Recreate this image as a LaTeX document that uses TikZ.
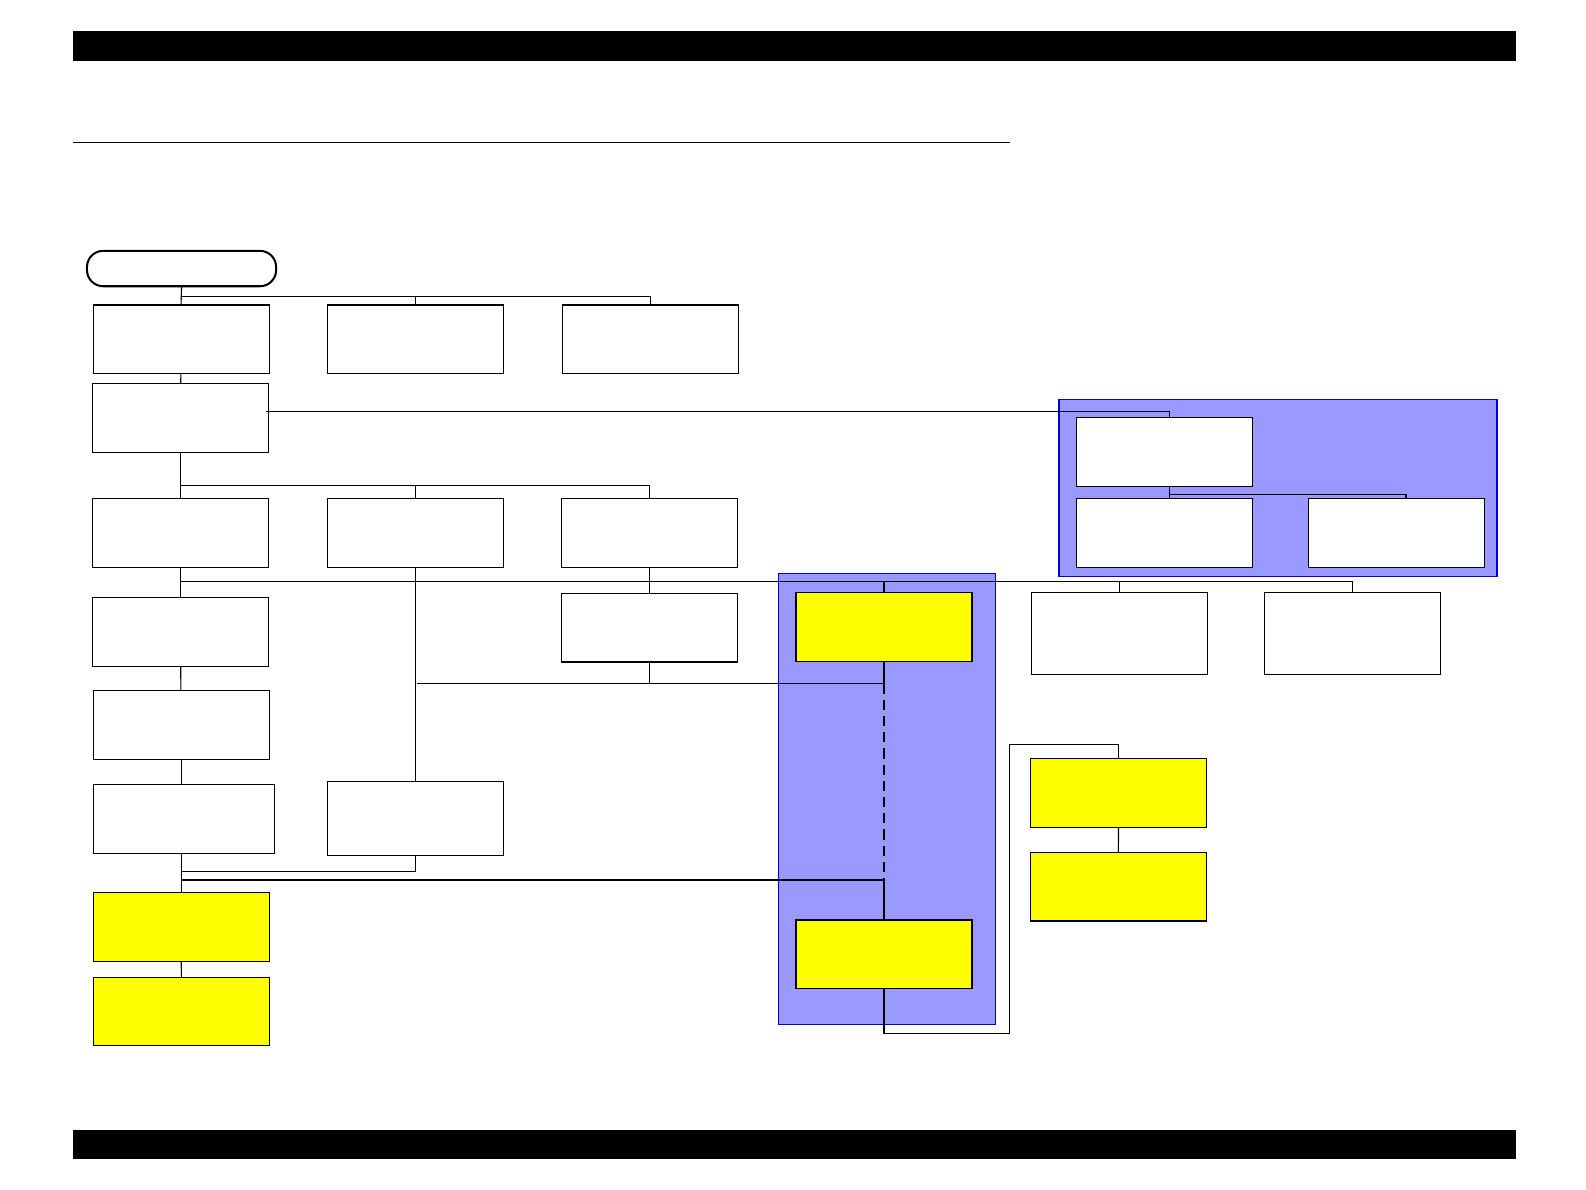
\documentclass[tikz,border=0pt]{standalone}
\usepackage{tikz}
\usetikzlibrary{positioning,calc}
\definecolor{grpblue}  {HTML}{9999FF}
\definecolor{grpedge}  {HTML}{0000CC}
\definecolor{stepyel}  {HTML}{FFFF00}

\begin{document}
\begin{tikzpicture}[
  x=0.5pt,y=-0.5pt,
  box/.style={draw,fill=white,line width=0.55pt,inner sep=0pt,outer sep=0pt,
              minimum width=87pt,minimum height=34pt},
  ybox/.style={box,fill=stepyel},
  term/.style={draw,fill=white,line width=1pt,rounded corners=8pt,inner sep=0pt,
               outer sep=0pt,minimum width=93.5pt,minimum height=17.5pt},
  grp/.style={draw=grpedge,fill=grpblue,line width=0.6pt,inner sep=0pt,outer sep=0pt},
  wire/.style={line width=0.55pt}
]
\useasboundingbox (0,0) rectangle (1568,1176);
% page bars
\fill (72,31) rectangle (1499,60);
\fill (72,1117) rectangle (1499,1146);
\draw[wire] (72,141) -- (999,141);
% groups
\node[grp,minimum width=107pt,minimum height=223pt] (grpmid) at (877,790) {};
\node[grp,minimum width=216.5pt,minimum height=87.5pt] (grpright) at (1263.5,482.5) {};
% start
\node[term] (start) at (179.5,265.5) {};
% first row
\node[box] (a1) at (179,335.5) {};
\node[box] (a2) at (411,335.5) {};
\node[box] (a3) at (643,335.5) {};
\node[box] (b)  at (178.5,413) {};
% second row
\node[box] (c1) at (178.5,527) {};
\node[box] (c2) at (410.5,527) {};
\node[box] (c3) at (642.5,527) {};
% left column
\node[box]  (d1) at (178.5,624.5) {};
\node[box]  (g1) at (179,716.5) {};
\node[box,minimum width=89.5pt] (h1) at (181.5,809.5) {};
\node[ybox] (y2) at (179,916.5) {};
\node[ybox] (y3) at (179.5,1000) {};
% middle
\node[box,minimum height=36.5pt] (g2) at (411,809.5) {};
\node[box] (d3) at (642,620.5) {};
\node[ybox] (y1) at (874,620) {};
\node[ybox] (y4) at (874,943.5) {};
% right side
\node[box,minimum height=40.5pt] (f1) at (1106.5,626.5) {};
\node[box,minimum height=40.5pt] (f2) at (1337.5,626.5) {};
\node[ybox] (y5) at (1106,784) {};
\node[ybox] (y6) at (1105.5,876.5) {};
\node[box] (e1) at (1151,447) {};
\node[box] (e2) at (1151,527) {};
\node[box] (e3) at (1381,527) {};

% bus points
\coordinate (bus1) at (179,293);
\coordinate (bus2) at (179,480);
\coordinate (bus3) at (179,575);
\coordinate (bus4) at (412,676);
\coordinate (bus5) at (179,870);
\coordinate (bus6) at (179,862);
\coordinate (bus7) at (1156,489);
\coordinate (bus7e) at (1390,489);
\coordinate (blink) at (263,407);
\coordinate (loopa) at (998,1022);
\coordinate (loopb) at (998,736);

\draw[wire] (start.south) -- (a1.north);
\draw[wire] (bus1) -| (a2.north);
\draw[wire] (bus1) -| (a3.north);
\draw[wire] (a1) -- (b);
\draw[wire] (blink) -| (bus7 |- e1.north);
\draw[wire] (b) -- (c1);
\draw[wire] (bus2) -| (c2.north);
\draw[wire] (bus2) -| (c3.north);
\draw[wire] (c1) -- (d1);
\draw[wire] (bus3) -| (y1.north);
\draw[wire] (bus3) -| (f1.north);
\draw[wire] (bus3) -| (f2.north);
\draw[wire] (c2.south) -- (c2.south |- g2.north);
\draw[wire] (c3.south) -- (c3.south |- d3.north);
\draw[wire] (d3.south) -- (d3.south |- bus4);
\draw[wire] (bus4) -| (y1.south);
\draw[wire,dash pattern=on 5pt off 3pt] (y1.south |- bus4) -- (y1.south |- bus5);
\draw[wire] (d1) -- (g1);
\draw[wire] (g1.south) -- (g1.south |- h1.north);
\draw[wire] (y2.north |- h1.south) -- (y2.north);
\draw[wire] (bus6) -| (g2.south);
\draw[wire] (bus5) -| (y4.north);
\draw[wire] (y2) -- (y3);
\draw[wire] (y4.south) |- (loopa) -- (loopb) -| (y5.north);
\draw[wire] (y5) -- (y6);
\draw[wire] (bus7 |- e1.south) -- (bus7 |- e2.north);
\draw[wire] (bus7) -- (bus7e) -- (bus7e |- e3.north);
\end{tikzpicture}
\end{document}
